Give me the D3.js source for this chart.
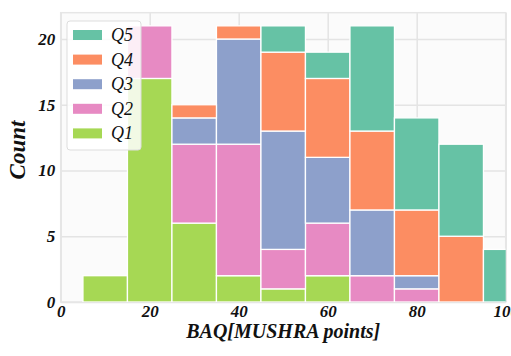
<!DOCTYPE html>
<html>
<head>
<meta charset="utf-8">
<script src="https://cdn.jsdelivr.net/npm/d3@7"></script>
<style>
  body { margin: 0; background: #fff; }
  text { font-family: "Liberation Serif", "Times New Roman", serif; }
</style>
</head>
<body>
<svg id="chart"></svg>
<script>
// Histogram bins (left edges, width 10) and stacked counts per quintile
const binStarts = [5, 15, 25, 35, 45, 55, 65, 75, 85, 95];
const binWidth = 10;
const q1 = [2, 17, 6, 2, 1, 2, 0, 0, 0, 0];
const q2 = [0, 4, 6, 10, 3, 4, 2, 1, 0, 0];
const q3 = [0, 0, 2, 8, 9, 5, 5, 1, 0, 0];
const q4 = [0, 0, 1, 1, 6, 6, 6, 5, 5, 0];
const q5 = [0, 0, 0, 0, 2, 2, 8, 7, 7, 4];
const seriesNames = ["Q1", "Q2", "Q3", "Q4", "Q5"];
const seriesColors = ["#a6d854", "#e78ac3", "#8da0cb", "#fc8d62", "#66c2a5"];
const xTicks = [0, 20, 40, 60, 80, 100];
const yTicks = [0, 5, 10, 15, 20];

const width = 511, height = 356;
const margin = { top: 12.7, right: 5.3, bottom: 54, left: 60.7 };
const w = width - margin.left - margin.right;
const h = height - margin.top - margin.bottom;

const svg = d3.select("#chart").attr("width", width).attr("height", height);
const g = svg.append("g").attr("transform", `translate(${margin.left},${margin.top})`);

const x = d3.scaleLinear().domain([0, 100]).range([0, w]);
const y = d3.scaleLinear().domain([0, 22]).range([h, 0]);

// plot background
g.append("rect").attr("width", w).attr("height", h).attr("fill", "#fbfbfb");

// gridlines
g.append("g")
    .attr("transform", `translate(0,${h})`)
    .call(d3.axisBottom(x).tickValues(xTicks).tickSize(-h).tickFormat(""))
    .call(a => a.select(".domain").remove())
    .selectAll("line").attr("stroke", "#e4e4e4").attr("stroke-width", 1.5);
g.append("g")
    .call(d3.axisLeft(y).tickValues(yTicks).tickSize(-w).tickFormat(""))
    .call(a => a.select(".domain").remove())
    .selectAll("line").attr("stroke", "#e4e4e4").attr("stroke-width", 1.5);

// frame
g.append("rect").attr("width", w).attr("height", h)
    .attr("fill", "none").attr("stroke", "#e6e6e6").attr("stroke-width", 1.5);

// stacked bars
const rows = binStarts.map((s, i) => ({ start: s, Q1: q1[i], Q2: q2[i], Q3: q3[i], Q4: q4[i], Q5: q5[i] }));
const stacked = d3.stack().keys(seriesNames)(rows);

svg.append("defs").append("clipPath").attr("id", "plotclip")
    .append("rect").attr("width", w).attr("height", h);

const bars = g.append("g").attr("clip-path", "url(#plotclip)");
stacked.forEach((layer, k) => {
    bars.append("g")
        .selectAll("rect")
        .data(layer.filter(d => d[1] > d[0]))
        .join("rect")
        .attr("x", d => x(d.data.start))
        .attr("width", x(binWidth) - x(0))
        .attr("y", d => y(d[1]))
        .attr("height", d => y(d[0]) - y(d[1]))
        .attr("fill", seriesColors[k])
        .attr("stroke", "#fff")
        .attr("stroke-width", 1.3);
});

// tick labels
g.append("g")
    .attr("transform", `translate(0,${h})`)
    .call(d3.axisBottom(x).tickValues(xTicks).tickSize(0).tickPadding(3))
    .call(a => a.select(".domain").remove())
    .selectAll("text")
    .attr("fill", "#111")
    .style("font-size", "17px").style("font-weight", "bold").style("font-style", "italic")
    .style("font-family", "Liberation Serif");
g.append("g")
    .call(d3.axisLeft(y).tickValues(yTicks).tickSize(0).tickPadding(5.5))
    .call(a => a.select(".domain").remove())
    .selectAll("text")
    .attr("fill", "#111")
    .style("font-size", "17px").style("font-weight", "bold").style("font-style", "italic")
    .style("font-family", "Liberation Serif");

// axis titles
svg.append("text")
    .attr("x", margin.left + w / 2)
    .attr("y", 338)
    .attr("text-anchor", "middle")
    .style("font-size", "20px").style("font-weight", "bold").style("font-style", "italic")
    .attr("fill", "#111")
    .text("BAQ[MUSHRA points]");
svg.append("text")
    .attr("transform", "translate(25,150) rotate(-90)")
    .attr("text-anchor", "middle")
    .style("font-size", "23px").style("font-weight", "bold").style("font-style", "italic")
    .attr("fill", "#111")
    .text("Count");

// legend
const legend = svg.append("g").attr("transform", "translate(67,21)");
legend.append("rect")
    .attr("width", 74).attr("height", 129).attr("rx", 3)
    .attr("fill", "#fff").attr("fill-opacity", 0.85)
    .attr("stroke", "#dddddd").attr("stroke-width", 1);
const legendOrder = [4, 3, 2, 1, 0];
legendOrder.forEach((k, i) => {
    const ly = 14 + i * 24.6;
    legend.append("rect")
        .attr("x", 6).attr("y", ly - 5).attr("width", 29).attr("height", 10)
        .attr("fill", seriesColors[k]);
    legend.append("text")
        .attr("x", 44).attr("y", ly + 6)
        .style("font-size", "18px").style("font-style", "italic")
        .attr("fill", "#111")
        .text(seriesNames[k]);
});
</script>
</body>
</html>
